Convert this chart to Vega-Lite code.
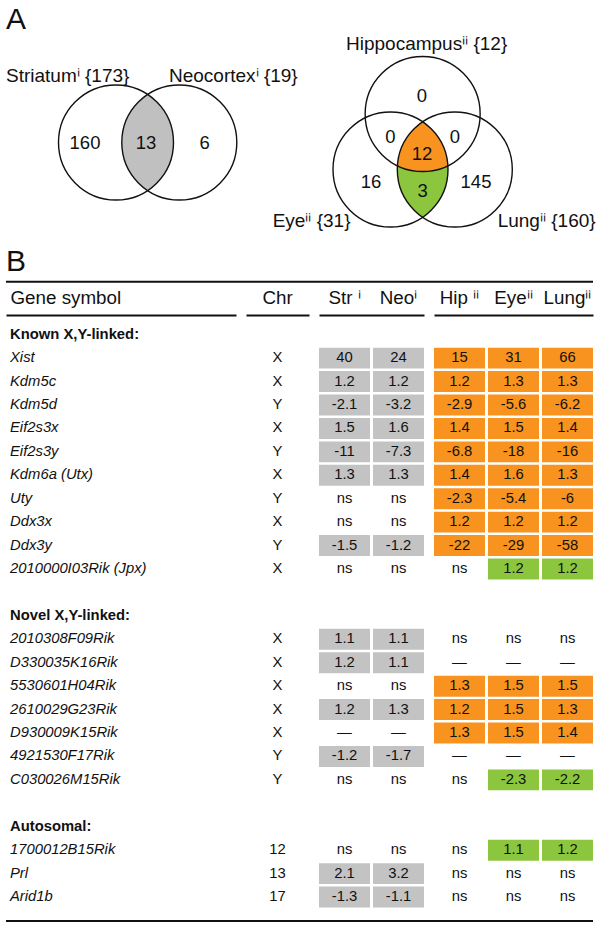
{
  "$schema": "https://vega.github.io/schema/vega-lite/v6.json",
  "padding": {"left": 5, "right": 8, "top": 0, "bottom": 0},
  "background": "white",
  "config": {"font": "Liberation Sans", "view": {"stroke": null}},
  "spacing": 5,
  "resolve": {"scale": {"x": "independent", "y": "independent", "color": "independent"}},
  "datasets": {
    "venn_circles": [
      {"set": "Striatum", "u": 18.739, "v": 24.276},
      {"set": "Neocortex", "u": 29.523, "v": 24.276},
      {"set": "Hippocampus", "u": 70.980, "v": 19.421},
      {"set": "Eye", "u": 65.503, "v": 28.876},
      {"set": "Lung", "u": 76.457, "v": 28.876}
    ],
    "venn_regions": [
      {"region": "Striatum ∩ Neocortex", "u": 24.131, "v": 24.276},
      {"region": "Hippocampus ∩ Eye ∩ Lung", "u": 70.980, "v": 28.876},
      {"region": "Eye ∩ Lung only", "u": 70.980, "v": 28.876}
    ],
    "venn_counts": [
      {"count": "160", "u": 13.458, "v": 24.31},
      {"count": "13", "u": 23.85, "v": 24.31},
      {"count": "6", "u": 33.83, "v": 24.31},
      {"count": "0", "u": 70.87, "v": 16.35},
      {"count": "0", "u": 65.47, "v": 23.34},
      {"count": "0", "u": 76.49, "v": 23.34},
      {"count": "12", "u": 70.87, "v": 26.18},
      {"count": "16", "u": 62.18, "v": 31.01},
      {"count": "3", "u": 70.99, "v": 32.54},
      {"count": "145", "u": 80.07, "v": 31.01}
    ],
    "venn_labels": [
      {"label": "Striatumⁱ {173}", "u": 0, "v": 12.95},
      {"label": "Neocortexⁱ {19}", "u": 27.77, "v": 12.95},
      {"label": "Hippocampusⁱⁱ {12}", "u": 57.92, "v": 7.55},
      {"label": "Eyeⁱⁱ {31}", "u": 45.43, "v": 37.65},
      {"label": "Lungⁱⁱ {160}", "u": 83.76, "v": 37.65}
    ],
    "letters": [
      {"letter": "A", "u": 0, "v": 3.4},
      {"letter": "B", "u": 0, "v": 44.6}
    ],
    "rows": [
      {"key": "h1", "label": "Known X,Y-linked:", "kind": "heading"},
      {"key": "Xist", "label": "Xist", "kind": "gene", "chr": "X"},
      {"key": "Kdm5c", "label": "Kdm5c", "kind": "gene", "chr": "X"},
      {"key": "Kdm5d", "label": "Kdm5d", "kind": "gene", "chr": "Y"},
      {"key": "Eif2s3x", "label": "Eif2s3x", "kind": "gene", "chr": "X"},
      {"key": "Eif2s3y", "label": "Eif2s3y", "kind": "gene", "chr": "Y"},
      {"key": "Kdm6a (Utx)", "label": "Kdm6a (Utx)", "kind": "gene", "chr": "X"},
      {"key": "Uty", "label": "Uty", "kind": "gene", "chr": "Y"},
      {"key": "Ddx3x", "label": "Ddx3x", "kind": "gene", "chr": "X"},
      {"key": "Ddx3y", "label": "Ddx3y", "kind": "gene", "chr": "Y"},
      {"key": "2010000I03Rik (Jpx)", "label": "2010000I03Rik (Jpx)", "kind": "gene", "chr": "X"},
      {"key": "h2", "label": "Novel X,Y-linked:", "kind": "heading"},
      {"key": "2010308F09Rik", "label": "2010308F09Rik", "kind": "gene", "chr": "X"},
      {"key": "D330035K16Rik", "label": "D330035K16Rik", "kind": "gene", "chr": "X"},
      {"key": "5530601H04Rik", "label": "5530601H04Rik", "kind": "gene", "chr": "X"},
      {"key": "2610029G23Rik", "label": "2610029G23Rik", "kind": "gene", "chr": "X"},
      {"key": "D930009K15Rik", "label": "D930009K15Rik", "kind": "gene", "chr": "X"},
      {"key": "4921530F17Rik", "label": "4921530F17Rik", "kind": "gene", "chr": "Y"},
      {"key": "C030026M15Rik", "label": "C030026M15Rik", "kind": "gene", "chr": "Y"},
      {"key": "h3", "label": "Autosomal:", "kind": "heading"},
      {"key": "1700012B15Rik", "label": "1700012B15Rik", "kind": "gene", "chr": "12"},
      {"key": "Prl", "label": "Prl", "kind": "gene", "chr": "13"},
      {"key": "Arid1b", "label": "Arid1b", "kind": "gene", "chr": "17"}
    ],
    "cells": [
      {"key": "Xist", "tissue": "Str", "value": "40", "sig": "s"},
      {"key": "Xist", "tissue": "Neo", "value": "24", "sig": "s"},
      {"key": "Xist", "tissue": "Hip", "value": "15", "sig": "o"},
      {"key": "Xist", "tissue": "Eye", "value": "31", "sig": "o"},
      {"key": "Xist", "tissue": "Lung", "value": "66", "sig": "o"},
      {"key": "Kdm5c", "tissue": "Str", "value": "1.2", "sig": "s"},
      {"key": "Kdm5c", "tissue": "Neo", "value": "1.2", "sig": "s"},
      {"key": "Kdm5c", "tissue": "Hip", "value": "1.2", "sig": "o"},
      {"key": "Kdm5c", "tissue": "Eye", "value": "1.3", "sig": "o"},
      {"key": "Kdm5c", "tissue": "Lung", "value": "1.3", "sig": "o"},
      {"key": "Kdm5d", "tissue": "Str", "value": "-2.1", "sig": "s"},
      {"key": "Kdm5d", "tissue": "Neo", "value": "-3.2", "sig": "s"},
      {"key": "Kdm5d", "tissue": "Hip", "value": "-2.9", "sig": "o"},
      {"key": "Kdm5d", "tissue": "Eye", "value": "-5.6", "sig": "o"},
      {"key": "Kdm5d", "tissue": "Lung", "value": "-6.2", "sig": "o"},
      {"key": "Eif2s3x", "tissue": "Str", "value": "1.5", "sig": "s"},
      {"key": "Eif2s3x", "tissue": "Neo", "value": "1.6", "sig": "s"},
      {"key": "Eif2s3x", "tissue": "Hip", "value": "1.4", "sig": "o"},
      {"key": "Eif2s3x", "tissue": "Eye", "value": "1.5", "sig": "o"},
      {"key": "Eif2s3x", "tissue": "Lung", "value": "1.4", "sig": "o"},
      {"key": "Eif2s3y", "tissue": "Str", "value": "-11", "sig": "s"},
      {"key": "Eif2s3y", "tissue": "Neo", "value": "-7.3", "sig": "s"},
      {"key": "Eif2s3y", "tissue": "Hip", "value": "-6.8", "sig": "o"},
      {"key": "Eif2s3y", "tissue": "Eye", "value": "-18", "sig": "o"},
      {"key": "Eif2s3y", "tissue": "Lung", "value": "-16", "sig": "o"},
      {"key": "Kdm6a (Utx)", "tissue": "Str", "value": "1.3", "sig": "s"},
      {"key": "Kdm6a (Utx)", "tissue": "Neo", "value": "1.3", "sig": "s"},
      {"key": "Kdm6a (Utx)", "tissue": "Hip", "value": "1.4", "sig": "o"},
      {"key": "Kdm6a (Utx)", "tissue": "Eye", "value": "1.6", "sig": "o"},
      {"key": "Kdm6a (Utx)", "tissue": "Lung", "value": "1.3", "sig": "o"},
      {"key": "Uty", "tissue": "Str", "value": "ns", "sig": "n"},
      {"key": "Uty", "tissue": "Neo", "value": "ns", "sig": "n"},
      {"key": "Uty", "tissue": "Hip", "value": "-2.3", "sig": "o"},
      {"key": "Uty", "tissue": "Eye", "value": "-5.4", "sig": "o"},
      {"key": "Uty", "tissue": "Lung", "value": "-6", "sig": "o"},
      {"key": "Ddx3x", "tissue": "Str", "value": "ns", "sig": "n"},
      {"key": "Ddx3x", "tissue": "Neo", "value": "ns", "sig": "n"},
      {"key": "Ddx3x", "tissue": "Hip", "value": "1.2", "sig": "o"},
      {"key": "Ddx3x", "tissue": "Eye", "value": "1.2", "sig": "o"},
      {"key": "Ddx3x", "tissue": "Lung", "value": "1.2", "sig": "o"},
      {"key": "Ddx3y", "tissue": "Str", "value": "-1.5", "sig": "s"},
      {"key": "Ddx3y", "tissue": "Neo", "value": "-1.2", "sig": "s"},
      {"key": "Ddx3y", "tissue": "Hip", "value": "-22", "sig": "o"},
      {"key": "Ddx3y", "tissue": "Eye", "value": "-29", "sig": "o"},
      {"key": "Ddx3y", "tissue": "Lung", "value": "-58", "sig": "o"},
      {"key": "2010000I03Rik (Jpx)", "tissue": "Str", "value": "ns", "sig": "n"},
      {"key": "2010000I03Rik (Jpx)", "tissue": "Neo", "value": "ns", "sig": "n"},
      {"key": "2010000I03Rik (Jpx)", "tissue": "Hip", "value": "ns", "sig": "n"},
      {"key": "2010000I03Rik (Jpx)", "tissue": "Eye", "value": "1.2", "sig": "g"},
      {"key": "2010000I03Rik (Jpx)", "tissue": "Lung", "value": "1.2", "sig": "g"},
      {"key": "2010308F09Rik", "tissue": "Str", "value": "1.1", "sig": "s"},
      {"key": "2010308F09Rik", "tissue": "Neo", "value": "1.1", "sig": "s"},
      {"key": "2010308F09Rik", "tissue": "Hip", "value": "ns", "sig": "n"},
      {"key": "2010308F09Rik", "tissue": "Eye", "value": "ns", "sig": "n"},
      {"key": "2010308F09Rik", "tissue": "Lung", "value": "ns", "sig": "n"},
      {"key": "D330035K16Rik", "tissue": "Str", "value": "1.2", "sig": "s"},
      {"key": "D330035K16Rik", "tissue": "Neo", "value": "1.1", "sig": "s"},
      {"key": "D330035K16Rik", "tissue": "Hip", "value": "—", "sig": "n"},
      {"key": "D330035K16Rik", "tissue": "Eye", "value": "—", "sig": "n"},
      {"key": "D330035K16Rik", "tissue": "Lung", "value": "—", "sig": "n"},
      {"key": "5530601H04Rik", "tissue": "Str", "value": "ns", "sig": "n"},
      {"key": "5530601H04Rik", "tissue": "Neo", "value": "ns", "sig": "n"},
      {"key": "5530601H04Rik", "tissue": "Hip", "value": "1.3", "sig": "o"},
      {"key": "5530601H04Rik", "tissue": "Eye", "value": "1.5", "sig": "o"},
      {"key": "5530601H04Rik", "tissue": "Lung", "value": "1.5", "sig": "o"},
      {"key": "2610029G23Rik", "tissue": "Str", "value": "1.2", "sig": "s"},
      {"key": "2610029G23Rik", "tissue": "Neo", "value": "1.3", "sig": "s"},
      {"key": "2610029G23Rik", "tissue": "Hip", "value": "1.2", "sig": "o"},
      {"key": "2610029G23Rik", "tissue": "Eye", "value": "1.5", "sig": "o"},
      {"key": "2610029G23Rik", "tissue": "Lung", "value": "1.3", "sig": "o"},
      {"key": "D930009K15Rik", "tissue": "Str", "value": "—", "sig": "n"},
      {"key": "D930009K15Rik", "tissue": "Neo", "value": "—", "sig": "n"},
      {"key": "D930009K15Rik", "tissue": "Hip", "value": "1.3", "sig": "o"},
      {"key": "D930009K15Rik", "tissue": "Eye", "value": "1.5", "sig": "o"},
      {"key": "D930009K15Rik", "tissue": "Lung", "value": "1.4", "sig": "o"},
      {"key": "4921530F17Rik", "tissue": "Str", "value": "-1.2", "sig": "s"},
      {"key": "4921530F17Rik", "tissue": "Neo", "value": "-1.7", "sig": "s"},
      {"key": "4921530F17Rik", "tissue": "Hip", "value": "—", "sig": "n"},
      {"key": "4921530F17Rik", "tissue": "Eye", "value": "—", "sig": "n"},
      {"key": "4921530F17Rik", "tissue": "Lung", "value": "—", "sig": "n"},
      {"key": "C030026M15Rik", "tissue": "Str", "value": "ns", "sig": "n"},
      {"key": "C030026M15Rik", "tissue": "Neo", "value": "ns", "sig": "n"},
      {"key": "C030026M15Rik", "tissue": "Hip", "value": "ns", "sig": "n"},
      {"key": "C030026M15Rik", "tissue": "Eye", "value": "-2.3", "sig": "g"},
      {"key": "C030026M15Rik", "tissue": "Lung", "value": "-2.2", "sig": "g"},
      {"key": "1700012B15Rik", "tissue": "Str", "value": "ns", "sig": "n"},
      {"key": "1700012B15Rik", "tissue": "Neo", "value": "ns", "sig": "n"},
      {"key": "1700012B15Rik", "tissue": "Hip", "value": "ns", "sig": "n"},
      {"key": "1700012B15Rik", "tissue": "Eye", "value": "1.1", "sig": "g"},
      {"key": "1700012B15Rik", "tissue": "Lung", "value": "1.2", "sig": "g"},
      {"key": "Prl", "tissue": "Str", "value": "2.1", "sig": "s"},
      {"key": "Prl", "tissue": "Neo", "value": "3.2", "sig": "s"},
      {"key": "Prl", "tissue": "Hip", "value": "ns", "sig": "n"},
      {"key": "Prl", "tissue": "Eye", "value": "ns", "sig": "n"},
      {"key": "Prl", "tissue": "Lung", "value": "ns", "sig": "n"},
      {"key": "Arid1b", "tissue": "Str", "value": "-1.3", "sig": "s"},
      {"key": "Arid1b", "tissue": "Neo", "value": "-1.1", "sig": "s"},
      {"key": "Arid1b", "tissue": "Hip", "value": "ns", "sig": "n"},
      {"key": "Arid1b", "tissue": "Eye", "value": "ns", "sig": "n"},
      {"key": "Arid1b", "tissue": "Lung", "value": "ns", "sig": "n"}
    ]
  },
  "vconcat": [
    {
      "width": 587,
      "height": 281.76,
      "layer": [
        {
          "data": {"name": "venn_regions"},
          "transform": [{"filter": "datum.region == 'Striatum ∩ Neocortex'"}],
          "mark": {"type": "point", "shape": "M0,-48A57.5,57.5,0,0,1,0,48A57.5,57.5,0,0,1,0,-48Z", "size": 4, "filled": true, "opacity": 1},
          "encoding": {
            "x": {"field": "u", "type": "quantitative", "scale": {"domain": [0, 100], "nice": false, "zero": false}, "axis": null},
            "y": {"field": "v", "type": "quantitative", "scale": {"domain": [0, 48], "reverse": true, "nice": false, "zero": false}, "axis": null},
            "color": {"field": "region", "type": "nominal", "scale": {"domain": ["Striatum ∩ Neocortex", "Hippocampus ∩ Eye ∩ Lung", "Eye ∩ Lung only"], "range": ["#c0c0c0", "#f7931e", "#8cc63f"]}, "legend": null}
          }
        },
        {
          "data": {"name": "venn_regions"},
          "transform": [{"filter": "datum.region == 'Hippocampus ∩ Eye ∩ Lung'"}],
          "mark": {"type": "point", "shape": "M0,-47.67A57.5,57.5,0,0,0,-25.23,-3.82A57.5,57.5,0,0,0,25.23,-3.82A57.5,57.5,0,0,0,0,-47.67Z", "size": 4, "filled": true, "opacity": 1},
          "encoding": {
            "x": {"field": "u", "type": "quantitative"},
            "y": {"field": "v", "type": "quantitative"},
            "color": {"field": "region", "type": "nominal", "legend": null}
          }
        },
        {
          "data": {"name": "venn_regions"},
          "transform": [{"filter": "datum.region == 'Eye ∩ Lung only'"}],
          "mark": {"type": "point", "shape": "M-25.23,-3.82A57.5,57.5,0,0,0,25.23,-3.82A57.5,57.5,0,0,1,0,47.67A57.5,57.5,0,0,1,-25.23,-3.82Z", "size": 4, "filled": true, "opacity": 1},
          "encoding": {
            "x": {"field": "u", "type": "quantitative"},
            "y": {"field": "v", "type": "quantitative"},
            "color": {"field": "region", "type": "nominal", "legend": null}
          }
        },
        {
          "data": {"name": "venn_circles"},
          "mark": {"type": "point", "shape": "circle", "size": 13225, "filled": false, "stroke": "#111111", "strokeWidth": 1.4, "opacity": 1},
          "encoding": {
            "x": {"field": "u", "type": "quantitative"},
            "y": {"field": "v", "type": "quantitative"}
          }
        },
        {
          "data": {"name": "venn_counts"},
          "mark": {"type": "text", "align": "center", "baseline": "middle", "fontSize": 18.5, "color": "#111111"},
          "encoding": {
            "x": {"field": "u", "type": "quantitative"},
            "y": {"field": "v", "type": "quantitative"},
            "text": {"field": "count"}
          }
        },
        {
          "data": {"name": "venn_labels"},
          "mark": {"type": "text", "align": "left", "baseline": "middle", "fontSize": 19, "color": "#111111"},
          "encoding": {
            "x": {"field": "u", "type": "quantitative"},
            "y": {"field": "v", "type": "quantitative"},
            "text": {"field": "label"}
          }
        },
        {
          "data": {"name": "letters"},
          "mark": {"type": "text", "align": "left", "baseline": "middle", "fontSize": 30, "color": "#111111"},
          "encoding": {
            "x": {"field": "u", "type": "quantitative"},
            "y": {"field": "v", "type": "quantitative"},
            "text": {"field": "letter"}
          }
        },
        {
          "data": {"values": [{}]},
          "mark": {"type": "rule", "strokeWidth": 1.8, "color": "#111111"},
          "encoding": {"y": {"datum": 48, "type": "quantitative"}}
        }
      ]
    },
    {
      "spacing": 10,
      "resolve": {"scale": {"x": "independent", "y": "independent", "color": "independent"}},
      "hconcat": [
        {
          "width": 230,
          "height": 600,
          "data": {"name": "rows"},
          "layer": [
            {
              "transform": [{"filter": "datum.kind == 'heading'"}],
              "mark": {"type": "text", "align": "left", "baseline": "middle", "fontSize": 14.8, "fontWeight": "bold", "dx": 4, "color": "#111111"},
              "encoding": {
                "x": {"datum": "Gene symbol", "type": "nominal",
                      "scale": {"type": "point", "domain": ["Gene symbol"], "padding": 0, "align": 0},
                      "axis": {"orient": "top", "title": null, "ticks": false, "tickSize": 0, "domain": true, "domainColor": "#111111", "domainWidth": 1.8, "labelFontSize": 18.8, "labelColor": "#111111", "labelPadding": 12, "labelBaseline": "alphabetic", "labelAlign": "left", "labelOffset": 4, "labelAngle": 0, "grid": false}},
                "y": {"field": "key", "type": "nominal", "axis": null,
                      "scale": {"type": "band", "domain": ["h1", "Xist", "Kdm5c", "Kdm5d", "Eif2s3x", "Eif2s3y", "Kdm6a (Utx)", "Uty", "Ddx3x", "Ddx3y", "2010000I03Rik (Jpx)", "b1", "h2", "2010308F09Rik", "D330035K16Rik", "5530601H04Rik", "2610029G23Rik", "D930009K15Rik", "4921530F17Rik", "C030026M15Rik", "b2", "h3", "1700012B15Rik", "Prl", "Arid1b"], "paddingInner": 0.106, "paddingOuter": 0.357, "align": 0.552, "round": false}},
                "text": {"field": "label"}
              }
            },
            {
              "transform": [{"filter": "datum.kind == 'gene'"}],
              "mark": {"type": "text", "align": "left", "baseline": "middle", "fontSize": 14.8, "fontStyle": "italic", "dx": 4, "color": "#111111"},
              "encoding": {
                "x": {"datum": "Gene symbol", "type": "nominal"},
                "y": {"field": "key", "type": "nominal"},
                "text": {"field": "label"}
              }
            }
          ]
        },
        {
          "width": 63,
          "height": 600,
          "data": {"name": "rows"},
          "transform": [{"filter": "datum.kind == 'gene'"}],
          "mark": {"type": "text", "align": "center", "baseline": "middle", "fontSize": 14.8, "color": "#111111"},
          "encoding": {
            "x": {"datum": "Chr", "type": "nominal",
                  "scale": {"type": "band", "domain": ["Chr"], "paddingInner": 0, "paddingOuter": 0},
                  "axis": {"orient": "top", "title": null, "ticks": false, "tickSize": 0, "domain": true, "domainColor": "#111111", "domainWidth": 1.8, "labelFontSize": 18.8, "labelColor": "#111111", "labelPadding": 12, "labelBaseline": "alphabetic", "labelAngle": 0, "grid": false}},
            "y": {"field": "key", "type": "nominal", "axis": null,
                  "scale": {"type": "band", "domain": ["h1", "Xist", "Kdm5c", "Kdm5d", "Eif2s3x", "Eif2s3y", "Kdm6a (Utx)", "Uty", "Ddx3x", "Ddx3y", "2010000I03Rik (Jpx)", "b1", "h2", "2010308F09Rik", "D330035K16Rik", "5530601H04Rik", "2610029G23Rik", "D930009K15Rik", "4921530F17Rik", "C030026M15Rik", "b2", "h3", "1700012B15Rik", "Prl", "Arid1b"], "paddingInner": 0.106, "paddingOuter": 0.357, "align": 0.552, "round": false}},
            "text": {"field": "chr"}
          }
        },
        {
          "width": 105,
          "height": 600,
          "data": {"name": "cells"},
          "transform": [{"filter": "datum.tissue == 'Str' || datum.tissue == 'Neo'"}],
          "layer": [
            {
              "transform": [{"filter": "datum.sig != 'n'"}],
              "mark": {"type": "rect"},
              "encoding": {
                "x": {"field": "tissue", "type": "nominal",
                      "scale": {"type": "band", "domain": ["Str", "Neo"], "paddingInner": 0.0556, "paddingOuter": 0, "round": false},
                      "axis": {"orient": "top", "title": null, "ticks": false, "tickSize": 0, "domain": true, "domainColor": "#111111", "domainWidth": 1.8, "labelFontSize": 18.8, "labelColor": "#111111", "labelPadding": 12, "labelBaseline": "alphabetic", "labelAngle": 0, "grid": false, "labelExpr": "datum.value == 'Str' ? 'Str ⁱ' : datum.value + 'ⁱ'"}},
                "y": {"field": "key", "type": "nominal", "axis": null,
                      "scale": {"type": "band", "domain": ["h1", "Xist", "Kdm5c", "Kdm5d", "Eif2s3x", "Eif2s3y", "Kdm6a (Utx)", "Uty", "Ddx3x", "Ddx3y", "2010000I03Rik (Jpx)", "b1", "h2", "2010308F09Rik", "D330035K16Rik", "5530601H04Rik", "2610029G23Rik", "D930009K15Rik", "4921530F17Rik", "C030026M15Rik", "b2", "h3", "1700012B15Rik", "Prl", "Arid1b"], "paddingInner": 0.106, "paddingOuter": 0.357, "align": 0.552, "round": false}},
                "color": {"field": "sig", "type": "nominal", "scale": {"domain": ["s", "o", "g"], "range": ["#c3c3c3", "#f7931e", "#8cc63f"]}, "legend": null}
              }
            },
            {
              "mark": {"type": "text", "align": "center", "baseline": "middle", "fontSize": 14.8, "color": "#111111"},
              "encoding": {
                "x": {"field": "tissue", "type": "nominal"},
                "y": {"field": "key", "type": "nominal"},
                "text": {"field": "value"}
              }
            }
          ]
        },
        {
          "width": 159,
          "height": 600,
          "data": {"name": "cells"},
          "transform": [{"filter": "datum.tissue == 'Hip' || datum.tissue == 'Eye' || datum.tissue == 'Lung'"}],
          "layer": [
            {
              "transform": [{"filter": "datum.sig != 'n'"}],
              "mark": {"type": "rect"},
              "encoding": {
                "x": {"field": "tissue", "type": "nominal",
                      "scale": {"type": "band", "domain": ["Hip", "Eye", "Lung"], "paddingInner": 0.0556, "paddingOuter": 0, "round": false},
                      "axis": {"orient": "top", "title": null, "ticks": false, "tickSize": 0, "domain": true, "domainColor": "#111111", "domainWidth": 1.8, "labelFontSize": 18.8, "labelColor": "#111111", "labelPadding": 12, "labelBaseline": "alphabetic", "labelAngle": 0, "grid": false, "labelExpr": "datum.value == 'Hip' ? 'Hip ⁱⁱ' : datum.value + 'ⁱⁱ'"}},
                "y": {"field": "key", "type": "nominal", "axis": null,
                      "scale": {"type": "band", "domain": ["h1", "Xist", "Kdm5c", "Kdm5d", "Eif2s3x", "Eif2s3y", "Kdm6a (Utx)", "Uty", "Ddx3x", "Ddx3y", "2010000I03Rik (Jpx)", "b1", "h2", "2010308F09Rik", "D330035K16Rik", "5530601H04Rik", "2610029G23Rik", "D930009K15Rik", "4921530F17Rik", "C030026M15Rik", "b2", "h3", "1700012B15Rik", "Prl", "Arid1b"], "paddingInner": 0.106, "paddingOuter": 0.357, "align": 0.552, "round": false}},
                "color": {"field": "sig", "type": "nominal", "scale": {"domain": ["s", "o", "g"], "range": ["#c3c3c3", "#f7931e", "#8cc63f"]}, "legend": null}
              }
            },
            {
              "mark": {"type": "text", "align": "center", "baseline": "middle", "fontSize": 14.8, "color": "#111111"},
              "encoding": {
                "x": {"field": "tissue", "type": "nominal"},
                "y": {"field": "key", "type": "nominal"},
                "text": {"field": "value"}
              }
            }
          ]
        }
      ]
    },
    {
      "width": 587,
      "height": 1,
      "data": {"values": [{}]},
      "mark": {"type": "rule", "strokeWidth": 1.8, "color": "#111111"},
      "encoding": {"y": {"datum": 0, "type": "quantitative", "scale": {"domain": [0, 1]}, "axis": null}}
    }
  ]
}
